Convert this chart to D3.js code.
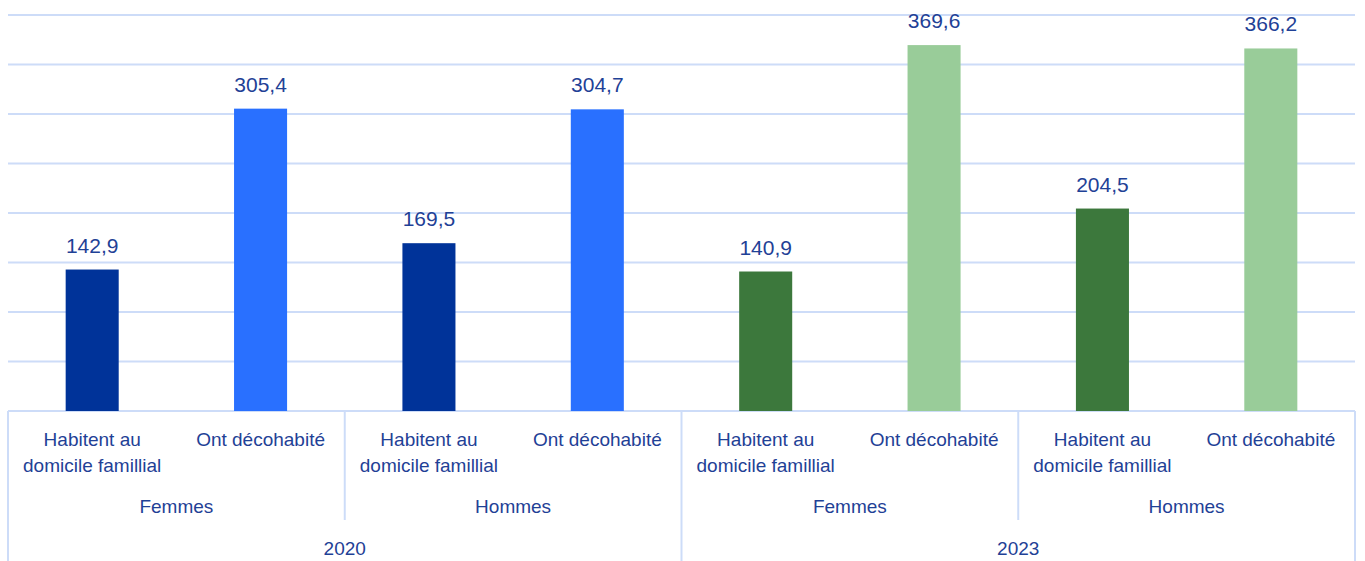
<!DOCTYPE html>
<html>
<head>
<meta charset="utf-8">
<script src="https://cdn.jsdelivr.net/npm/d3@7"></script>
<style>
  body { margin: 0; background: #fff; }
  svg { display: block; font-family: "Liberation Sans", Arial, sans-serif; }
</style>
</head>
<body>
<svg id="chart" width="1365" height="561"></svg>
<script>
// Data
const years = ["2020", "2023"];
const genders = ["Femmes", "Hommes"];
const statuses = [["Habitent au", "domicile famillial"], ["Ont décohabité"]];
const values = [142.9, 305.4, 169.5, 304.7, 140.9, 369.6, 204.5, 366.2];
const yTicks = [0, 50, 100, 150, 200, 250, 300, 350, 400];

// Colours per year and status
const palette = {
    "2020": ["#003399", "#2970ff"],
    "2023": ["#3c783c", "#99cc99"]
};
const textColor = "#1f4196";
const gridColor = "#cddcf8";

const svg = d3.select("#chart");
const plotLeft = 8, plotRight = 1355, plotTop = 15, plotBottom = 411;

// build the flat list of bars
const rows = [];
years.forEach((yr, yi) => {
    genders.forEach((g, gi) => {
        statuses.forEach((s, si) => {
            const i = yi * 4 + gi * 2 + si;
            rows.push({ key: i, year: yr, gender: g, status: s, si: si, value: values[i] });
        });
    });
});

const x = d3.scaleBand().domain(rows.map(d => d.key)).range([plotLeft, plotRight]);
const y = d3.scaleLinear().domain([0, 400]).range([plotBottom, plotTop]);
const fmt = d3.formatLocale({ decimal: ",", thousands: " ", grouping: [3], currency: ["", "€"] }).format(".1f");

// gridlines
svg.append("g")
    .selectAll("line")
    .data(yTicks)
    .join("line")
    .attr("x1", plotLeft)
    .attr("x2", plotRight)
    .attr("y1", d => y(d))
    .attr("y2", d => y(d))
    .attr("stroke", gridColor)
    .attr("stroke-width", 2);

// bars
const barW = x.bandwidth() * 0.315;
svg.append("g")
    .selectAll("rect")
    .data(rows)
    .join("rect")
    .attr("x", d => x(d.key) + (x.bandwidth() - barW) / 2)
    .attr("y", d => y(d.value))
    .attr("width", barW)
    .attr("height", d => y(0) - y(d.value))
    .attr("fill", d => palette[d.year][d.si]);

// value labels
svg.append("g")
    .selectAll("text")
    .data(rows)
    .join("text")
    .attr("x", d => x(d.key) + x.bandwidth() / 2)
    .attr("y", d => y(d.value) - 17)
    .attr("text-anchor", "middle")
    .attr("fill", textColor)
    .style("font-size", "21px")
    .text(d => fmt(d.value));

// multi-level category axis
const axis = svg.append("g");
const bw = x.bandwidth();

// vertical separators: gender groups short, year groups long
const sepShort = [2, 6].map(i => x(i));
const sepLong = [plotLeft, x(4), plotRight];
axis.selectAll(".short")
    .data(sepShort)
    .join("line")
    .attr("x1", d => d).attr("x2", d => d)
    .attr("y1", plotBottom).attr("y2", 520)
    .attr("stroke", gridColor).attr("stroke-width", 2);
axis.selectAll(".long")
    .data(sepLong)
    .join("line")
    .attr("x1", d => d).attr("x2", d => d)
    .attr("y1", plotBottom).attr("y2", 561)
    .attr("stroke", gridColor).attr("stroke-width", 2);

// status labels
const lab = axis.selectAll(".status")
    .data(rows)
    .join("text")
    .attr("text-anchor", "middle")
    .attr("fill", textColor)
    .style("font-size", "19px");
lab.selectAll("tspan")
    .data(d => d.status.map(t => ({ t, cx: x(d.key) + bw / 2 })))
    .join("tspan")
    .attr("x", d => d.cx)
    .attr("y", (d, i) => 446 + i * 26)
    .text(d => d.t);

// gender labels
const genderRows = rows.filter(d => d.si === 0);
axis.selectAll(".gender")
    .data(genderRows)
    .join("text")
    .attr("x", d => x(d.key) + bw)
    .attr("y", 513)
    .attr("text-anchor", "middle")
    .attr("fill", textColor)
    .style("font-size", "19px")
    .text(d => d.gender);

// year labels
axis.selectAll(".year")
    .data(years)
    .join("text")
    .attr("x", (d, i) => x(i * 4) + bw * 2)
    .attr("y", 555)
    .attr("text-anchor", "middle")
    .attr("fill", textColor)
    .style("font-size", "19px")
    .text(d => d);
</script>
</body>
</html>
